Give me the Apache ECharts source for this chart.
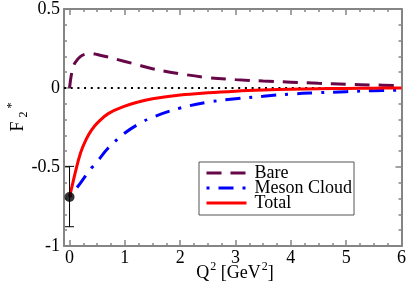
<!DOCTYPE html>
<html><head><meta charset="utf-8">
<script src="https://cdn.jsdelivr.net/npm/echarts@6/dist/echarts.min.js"></script>
<style>html,body{margin:0;padding:0;background:#fff}#c{width:409px;height:290px}</style>
</head><body><div id="c"></div>
<script>
// ---- data ----
const q      = [0, 0.05, 0.1, 0.2, 0.3, 0.4, 0.5, 0.7, 1.0, 1.25, 1.5, 2.0, 2.5, 3.0, 3.5, 4.0, 4.5, 5.0, 5.5, 6.0];
const bare   = [0, 0.115, 0.16, 0.2, 0.215, 0.218, 0.212, 0.195, 0.168, 0.145, 0.122, 0.09, 0.066, 0.053, 0.044, 0.037, 0.03, 0.024, 0.019, 0.015];
const meson  = [-0.69, -0.667, -0.645, -0.6, -0.55, -0.505, -0.465, -0.38, -0.285, -0.228, -0.185, -0.127, -0.09, -0.068, -0.052, -0.038, -0.03, -0.023, -0.017, -0.013];
const total  = [-0.69, -0.615, -0.54, -0.41, -0.325, -0.265, -0.222, -0.162, -0.115, -0.088, -0.068, -0.044, -0.03, -0.02, -0.013, -0.008, -0.005, -0.003, -0.001, 0];
const seriesNames = ['Bare', 'Meson Cloud', 'Total'];
const expPoint = [[0, -0.69]];
const expError = [[0, -0.878, -0.496]];
const zeroLine = [[-0.1, 0], [6, 0]];
const xMajorTicks = [0, 1, 2, 3, 4, 5, 6];
const xMinorTicks = [0.25, 0.5, 0.75, 1.25, 1.5, 1.75, 2.25, 2.5, 2.75, 3.25, 3.5, 3.75, 4.25, 4.5, 4.75, 5.25, 5.5, 5.75];
const xRange = [-0.1, 6];
const yRange = [-1, 0.5];
const yStep = 0.5;

// ---- styling ----
const FONT = 'Liberation Serif';
const AX = '#858585';
const pairs = (xs, ys) => xs.map((x, i) => [x, ys[i]]);

function xAx(pos, ticks, len, labels, line) {
  return {
    type: 'value', position: pos, min: xRange[0], max: xRange[1],
    axisLine: { show: line, onZero: false, lineStyle: { color: AX, width: 2 } },
    axisTick: { show: true, inside: true, length: len, customValues: ticks, lineStyle: { color: AX, width: 1.5 } },
    axisLabel: labels ? { show: true, customValues: xMajorTicks, margin: 3, color: '#000', fontFamily: FONT, fontSize: 18 } : { show: false },
    splitLine: { show: false }, minorTick: { show: false }
  };
}
function yAx(pos, labels) {
  return {
    type: 'value', position: pos, min: yRange[0], max: yRange[1], interval: yStep,
    axisLine: { show: true, onZero: false, lineStyle: { color: AX, width: 2 } },
    axisTick: { show: true, inside: true, length: 6, lineStyle: { color: AX, width: 1.5 } },
    minorTick: { show: true, splitNumber: 5, length: 3, lineStyle: { color: AX, width: 1.5 } },
    axisLabel: labels ? { show: true, margin: 4, color: '#000', fontFamily: FONT, fontSize: 18 } : { show: false },
    splitLine: { show: false }, minorSplitLine: { show: false }
  };
}

const chart = echarts.init(document.getElementById('c'), null, { renderer: 'canvas' });
chart.setOption({
  animation: false,
  backgroundColor: '#fff',
  grid: { left: 64, right: 6, top: 8, bottom: 44, containLabel: false },
  xAxis: [
    xAx('bottom', xMajorTicks, 6, true, true),
    xAx('bottom', xMinorTicks, 3, false, false),
    xAx('top', xMajorTicks, 6, false, true),
    xAx('top', xMinorTicks, 3, false, false)
  ],
  yAxis: [yAx('left', true), yAx('right', false)],
  legend: {
    data: seriesNames, orient: 'vertical', left: 199, top: 162,
    padding: [2, 2, 3, 6], itemGap: -3, itemWidth: 40, itemHeight: 15,
    borderColor: '#555', borderWidth: 1, backgroundColor: '#fff', selectedMode: false,
    lineStyle: { width: 3 },
    itemStyle: { opacity: 0 },
    textStyle: { fontFamily: FONT, fontSize: 18, color: '#000', lineHeight: 15, padding: [0, 0, 0, 3] }
  },
  graphic: [
    {
      type: 'text', x: 18, y: 117, rotation: Math.PI / 2,
      style: {
        text: '{m|F}{sub|2}{sup|*}', align: 'center', verticalAlign: 'middle',
        rich: {
          m: { fontFamily: FONT, fontSize: 18, lineHeight: 24, fill: '#000' },
          sub: { fontFamily: FONT, fontSize: 12, lineHeight: 12, verticalAlign: 'bottom', padding: [0, 0, 0, 4], fill: '#000' },
          sup: { fontFamily: FONT, fontSize: 12, lineHeight: 12, verticalAlign: 'top', padding: [0, 0, 0, 3], fill: '#000' }
        }
      }
    },
    {
      type: 'text', x: 235, y: 273,
      style: {
        text: '{m|Q}{sup|2}{m| [GeV}{sup|2}{m|]}', align: 'center', verticalAlign: 'middle',
        rich: {
          m: { fontFamily: FONT, fontSize: 18, lineHeight: 24, fill: '#000' },
          sup: { fontFamily: FONT, fontSize: 12, lineHeight: 12, verticalAlign: 'top', padding: [0, 0, 0, 1], fill: '#000' }
        }
      }
    }
  ],
  series: [
    { type: 'line', name: 'zero', data: zeroLine, symbol: 'none', silent: true,
      lineStyle: { color: '#000', width: 2, type: [2, 4.7], cap: 'butt' }, z: 1 },
    { type: 'line', name: seriesNames[0], data: pairs(q, bare), symbol: 'none', smooth: 0.4,
      color: '#670748', lineStyle: { color: '#670748', width: 3, type: [15, 9] }, z: 2 },
    { type: 'line', name: seriesNames[1], data: pairs(q, meson), symbol: 'none', smooth: 0.4,
      color: '#0000ff', lineStyle: { color: '#0000ff', width: 3, type: [3, 9, 15, 9] }, z: 3 },
    { type: 'line', name: seriesNames[2], data: pairs(q, total), symbol: 'none', smooth: 0.4,
      color: '#ff0000', lineStyle: { color: '#ff0000', width: 3 }, z: 4 },
    { type: 'custom', name: 'err', data: expError, encode: { x: 0, y: [1, 2] }, z: 5, silent: true,
      renderItem: function (params, api) {
        const x = api.value(0);
        const lo = api.coord([x, api.value(1)]);
        const hi = api.coord([x, api.value(2)]);
        const hw = 4.5;
        const st = { stroke: '#000', lineWidth: 1 };
        return { type: 'group', children: [
          { type: 'line', shape: { x1: lo[0], y1: lo[1], x2: hi[0], y2: hi[1] }, style: st },
          { type: 'line', shape: { x1: lo[0] - hw, y1: lo[1], x2: lo[0] + hw, y2: lo[1] }, style: st },
          { type: 'line', shape: { x1: hi[0] - hw, y1: hi[1], x2: hi[0] + hw, y2: hi[1] }, style: st }
        ]};
      } },
    { type: 'scatter', name: 'data', data: expPoint, symbol: 'circle', symbolSize: 10,
      itemStyle: { color: '#000' }, z: 6, silent: true }
  ]
});
</script>
</body></html>
